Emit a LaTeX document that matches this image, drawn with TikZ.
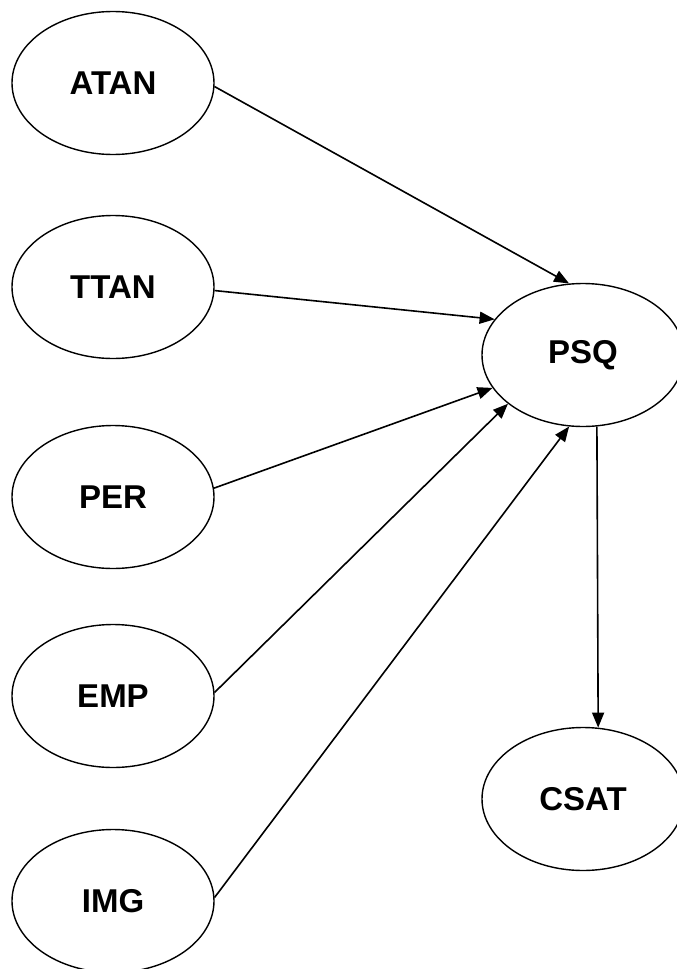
\documentclass[tikz,border=0pt]{standalone}
\usepackage{fontspec}
\setmainfont{Liberation Sans}
\usetikzlibrary{shapes.geometric,arrows.meta}
\begin{document}
\begin{tikzpicture}[x=1pt,y=-1pt,
  construct/.style={ellipse,draw=black,line width=1.4pt,fill=white,
    minimum width=202pt,minimum height=143pt,inner sep=0pt,
    font=\fontsize{33}{38}\selectfont\bfseries},
  link/.style={draw=black,line width=1.6pt,
    -{Triangle[length=15pt,width=12pt]}}]
\useasboundingbox (0,0) rectangle (677,969);

% exogenous constructs
\node[construct] (atan) at (113,83)  {\raisebox{-2pt}{ATAN}};
\node[construct] (ttan) at (113,287) {\raisebox{-2pt}{TTAN}};
\node[construct] (per)  at (113,497) {\raisebox{-2pt}{PER}};
\node[construct] (emp)  at (113,696) {\raisebox{-2pt}{EMP}};
\node[construct] (img)  at (113,901) {\raisebox{-2pt}{IMG}};

% mediator and outcome
\node[construct] (psq)  at (583,355) {\raisebox{-2pt}{PSQ}};
\node[construct] (csat) at (583,799) {\raisebox{-2pt}{CSAT}};

% structural paths
\draw[link] (atan.-2) -- (psq.101.8);
\draw[link] (ttan.-2) -- (psq.158);
\draw[link] (per.5)   -- (psq.200);
\draw[link] (emp.2)   -- (psq.213);
\draw[link] (img.2)   -- (psq.259);
\draw[link] (psq.281.8) -- (csat.78.2);
\end{tikzpicture}
\end{document}
